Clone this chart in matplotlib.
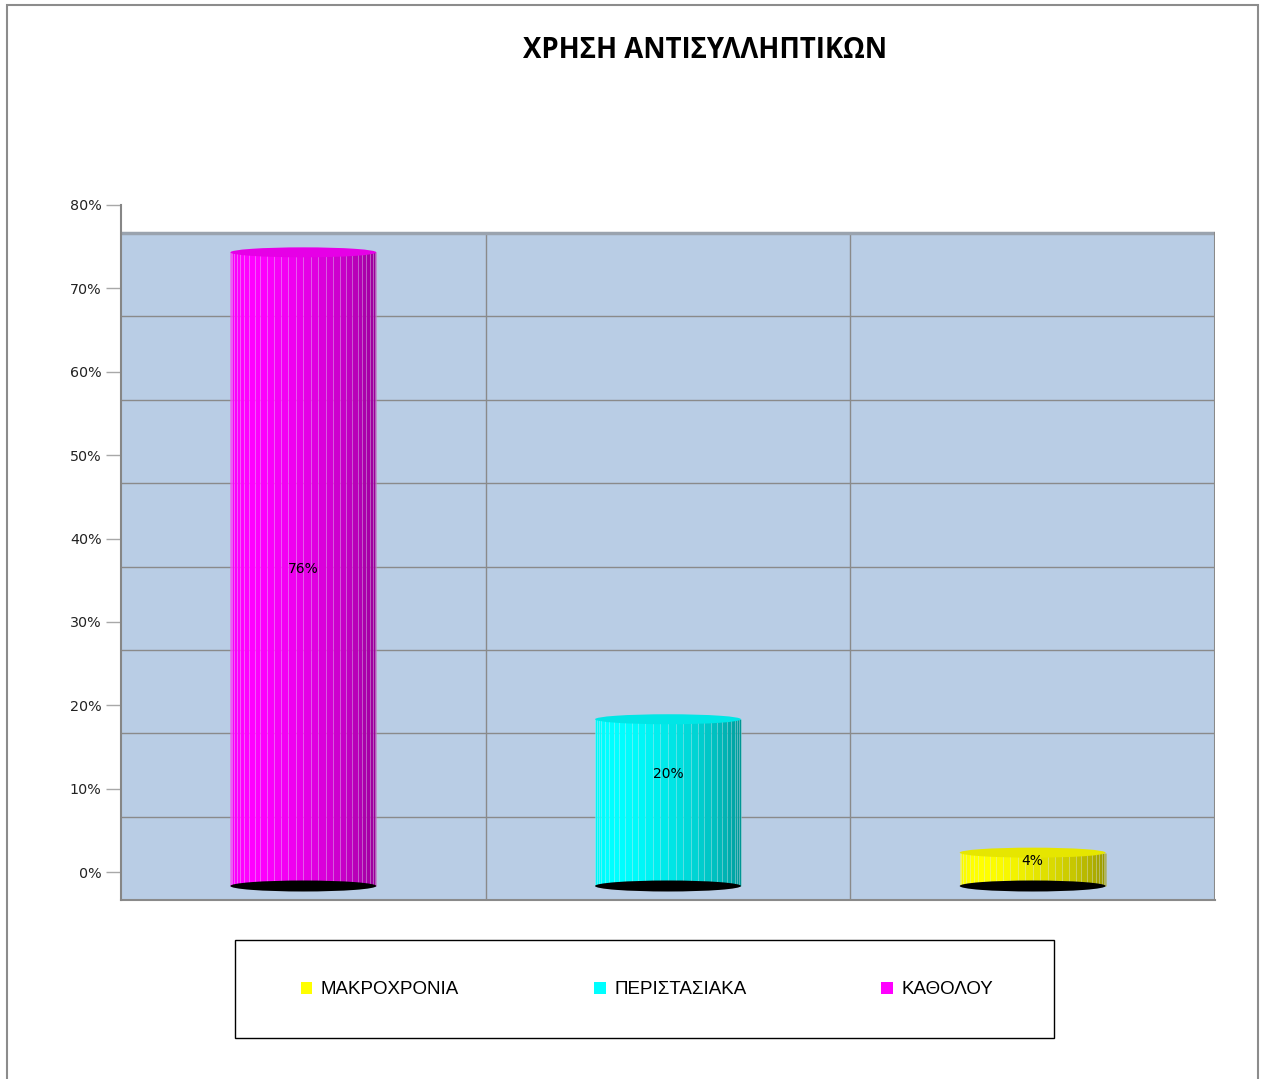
import matplotlib
matplotlib.use("Agg")
import matplotlib.pyplot as plt
from matplotlib.patches import Rectangle, Ellipse, Patch
from matplotlib.ticker import PercentFormatter
import numpy as np

# data
categories = ["ΚΑΘΟΛΟΥ", "ΠΕΡΙΣΤΑΣΙΑΚΑ", "ΜΑΚΡΟΧΡΟΝΙΑ"]
values = [0.76, 0.20, 0.04]
value_labels = ["76%", "20%", "4%"]
colors = ["#FF00FF", "#00FFFF", "#FFFF00"]
legend_order = ["ΜΑΚΡΟΧΡΟΝΙΑ", "ΠΕΡΙΣΤΑΣΙΑΚΑ", "ΚΑΘΟΛΟΥ"]
label_frac = [0.5, 0.67, 0.75]
title = "ΧΡΗΣΗ ΑΝΤΙΣΥΛΛΗΠΤΙΚΩΝ"

W, H = 1261, 1079
fig = plt.figure(figsize=(W / 100, H / 100), dpi=100)

# outer chart border
fig.patches.append(Rectangle((7 / W, -0.01), 1251 / W, 1 - 5 / H + 0.01,
                             transform=fig.transFigure, fill=False,
                             edgecolor="#8C8C8C", lw=1.5))

ax = fig.add_axes([121 / W, (H - 900) / H, (1215 - 121) / W, (900 - 205) / H])
off = 28 / 833.75          # depth of the back wall in data units
ax.set_xlim(0, 3)
ax.set_ylim(-off, 0.80)
ax.patch.set_visible(False)
for s in ["top", "right", "bottom"]:
    ax.spines[s].set_visible(False)
ax.spines["left"].set_color("#868686")
ax.spines["left"].set_linewidth(1.5)
ax.set_xticks([])
ax.set_yticks(np.arange(0, 0.81, 0.1))
ax.yaxis.set_major_formatter(PercentFormatter(1.0, decimals=0))
ax.tick_params(axis="y", direction="out", length=11, width=1, color="#A8A8A8",
               labelsize=10.3, labelcolor="#222222", pad=3)

# back wall
ax.add_patch(Rectangle((0, -off), 3, 0.8, facecolor="#B9CDE5", edgecolor="none", zorder=0))
for k in range(1, 8):
    ax.plot([0, 3], [k * 0.1 - off] * 2, color="#8A8A8A", lw=1, zorder=1)
for xv in [1, 2]:
    ax.plot([xv, xv], [-off, 0.8 - off], color="#8A8A8A", lw=1, zorder=1)
ax.plot([0, 3], [0.8 - off] * 2, color="#9AA3AE", lw=2.5, zorder=1, solid_capstyle="butt")
ax.plot([3, 3], [-off, 0.8 - off], color="#8A8A8A", lw=1.5, zorder=1)
ax.plot([0, 3], [-off, -off], color="#8A8A8A", lw=1.5, zorder=1, clip_on=False)

# cylinders
base = -off / 2
r = 0.2
eh = 10 / 833.75
th = np.linspace(np.pi, 0, 31)
for i, (v, c) in enumerate(zip(values, colors)):
    cx = i + 0.5
    rgb = np.array(matplotlib.colors.to_rgb(c))
    xs = cx + r * np.cos(th)
    for j in range(len(th) - 1):
        tm = 0.5 * (th[j] + th[j + 1])
        f = 0.5 + 0.5 * (0.5 + 0.5 * np.cos(tm - 0.78 * np.pi))
        ax.bar(xs[j], v, width=xs[j + 1] - xs[j], bottom=base, align="edge",
               color=rgb * f, edgecolor=(1, 1, 1, 0.18), lw=0.6, zorder=3)
    ax.add_patch(Ellipse((cx, base + v), 2 * r, eh, facecolor=rgb * 0.9,
                         edgecolor="none", zorder=4))
    ax.add_patch(Ellipse((cx, base), 2 * r, eh * 1.1, facecolor="black",
                         edgecolor="none", zorder=5))
    ax.text(cx, base + v * label_frac[i], value_labels[i], ha="center", va="center",
            fontsize=10, color="black", zorder=6)

# title
fig.text(705 / W, 1 - 51 / H, title, ha="center", va="center",
         fontsize=19.8, fontweight="bold", family="Open Sans")

# legend
fig.patches.append(Rectangle((235 / W, (H - 1038) / H), 819 / W, 98 / H,
                             transform=fig.transFigure, fill=False,
                             edgecolor="black", lw=1))
handles = [Patch(facecolor=colors[categories.index(n)], edgecolor="none", label=n)
           for n in legend_order]
fig.legend(handles=handles, loc="center", bbox_to_anchor=(647 / W, 1 - 990 / H),
           ncol=3, frameon=False, prop={"family": "Liberation Sans", "size": 13.5},
           handlelength=0.62, handleheight=0.62, handletextpad=0.45, columnspacing=7.2)

fig.savefig("out.png", dpi=100)
